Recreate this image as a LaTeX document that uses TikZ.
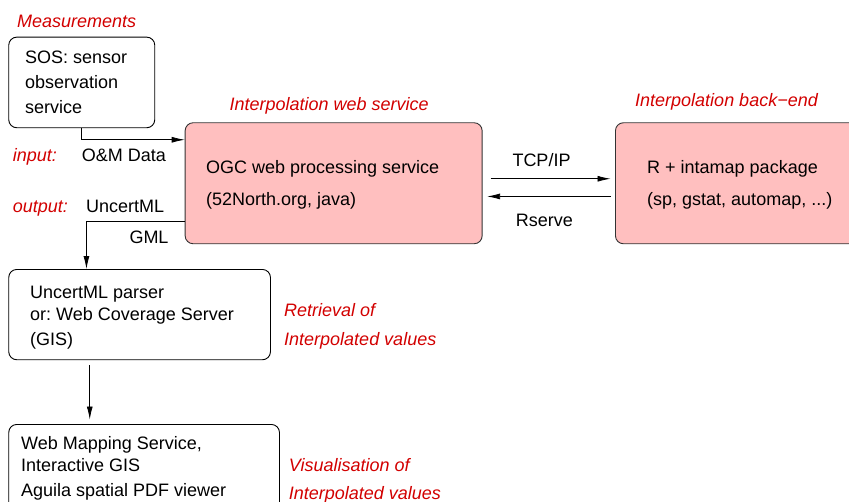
\documentclass[tikz,border=0pt]{standalone}
\usepackage{fontspec}
\setmainfont{Liberation Sans}
\usetikzlibrary{arrows.meta}
\definecolor{lblred}{RGB}{210,0,0}
\definecolor{pinkfill}{RGB}{255,191,191}
\frenchspacing
\begin{document}
\begin{tikzpicture}[x=1pt,y=-1pt,
  box/.style={draw=black,line width=0.9pt,rounded corners=8pt,inner sep=0pt,anchor=north west},
  pinkbox/.style={box,fill=pinkfill,draw=black!80},
  txt/.style={inner sep=0pt,anchor=north west,align=left,font=\fontsize{18}{22}\selectfont},
  lbl/.style={inner sep=0pt,anchor=base west,font=\fontsize{18}{22}\selectfont},
  redlbl/.style={lbl,text=lblred,font=\fontsize{18}{22}\selectfont\itshape},
  arr/.style={line width=0.8pt,-{Latex[length=13pt,width=6pt]}}]
\useasboundingbox (0,0) rectangle (849,501);

% boxes
\node[box,minimum width=146pt,minimum height=90.6pt] (sos) at (8.3,36.7) {};
\node[pinkbox,minimum width=297pt,minimum height=121pt] (ogc) at (184.7,122.3) {};
\node[pinkbox,minimum width=260pt,minimum height=121pt] (rb) at (615,122.3) {};
\node[box,minimum width=261.7pt,minimum height=90.3pt] (unc) at (8.3,269) {};
\node[box,minimum width=270.7pt,minimum height=100pt] (web) at (8.3,424) {};

% box texts
\node[txt,font=\fontsize{18}{25}\selectfont] (sostext) at (25,50.5) {SOS: sensor\\observation\\service};
\node[txt,font=\fontsize{18}{32}\selectfont] (ogctext) at (206,160.5) {OGC web processing service\\(52North.org, java)};
\node[txt,font=\fontsize{18}{32}\selectfont] (rtext) at (647,160.5) {R + intamap package\\(sp, gstat, automap, ...)};
\node[txt] (unctext) at (30,286.2) {UncertML parser\\or: Web Coverage Server\\[2.5pt](GIS)};
\node[txt] (webtext) at (21,436.7) {Web Mapping Service,\\[-0.5pt]Interactive GIS\\[3pt]Aguila spatial PDF viewer};

% labels
\node[redlbl] (lmeas) at (17,27.7) {Measurements};
\node[redlbl] (lws) at (229.3,110) {Interpolation web service};
\node[redlbl] (lbe) at (635,106) {Interpolation back−end};
\node[redlbl] (lin) at (12.7,161) {input:};
\node[lbl] (lom) at (81.7,161) {O\&M Data};
\node[redlbl] (lout) at (12.7,212.7) {output:};
\node[lbl] (lunc) at (86,212.7) {UncertML};
\node[lbl] (lgml) at (129.3,243) {GML};
\node[lbl] (ltcp) at (512.3,166) {TCP/IP};
\node[lbl] (lrs) at (515.7,226) {Rserve};
\node[redlbl,align=left,anchor=north west,font=\fontsize{18}{29.6}\selectfont\itshape] (lret) at (284,302.8) {Retrieval of\\Interpolated values};
\node[redlbl,align=left,anchor=north west,font=\fontsize{18}{28}\selectfont\itshape] (lvis) at (288.7,458) {Visualisation of\\Interpolated values};

% connectors
\draw[arr] (sos.south) |- ([yshift=43.5pt]ogc.west);
\draw[arr] ([yshift=-38pt]ogc.west) -| ([xshift=-53.15pt]unc.north);
\draw[arr] ([xshift=8pt,yshift=4.5pt]ogc.east) -- ([xshift=-4.5pt,yshift=4.5pt]rb.west);
\draw[arr] ([xshift=-4.5pt,yshift=-13.2pt]rb.west) -- ([xshift=4.5pt,yshift=-13.2pt]ogc.east);
\draw[arr] ([xshift=-49.85pt,yshift=-5pt]unc.south) -- ([xshift=-54.35pt,yshift=4.5pt]web.north);
\end{tikzpicture}
\end{document}
